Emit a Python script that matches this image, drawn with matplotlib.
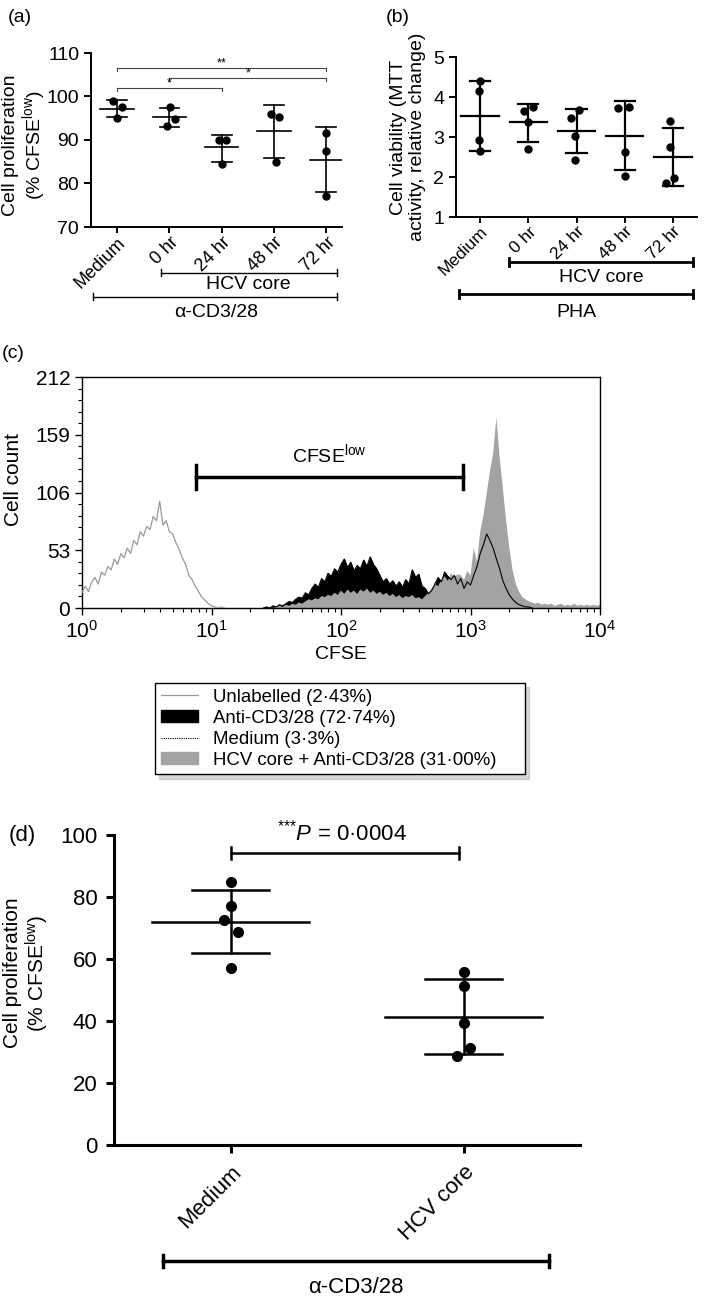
import numpy as np
import matplotlib
matplotlib.use('Agg')
import matplotlib.pyplot as plt
from matplotlib.lines import Line2D
from matplotlib.patches import Patch
from matplotlib.ticker import AutoMinorLocator, LogLocator, NullFormatter

plt.rcParams['font.family'] = ['Liberation Sans', 'DejaVu Sans']
plt.rcParams['mathtext.fontset'] = 'custom'
plt.rcParams['mathtext.rm'] = 'Liberation Sans'
plt.rcParams['mathtext.it'] = 'Liberation Sans:italic'
plt.rcParams['mathtext.bf'] = 'Liberation Sans:bold'

# ---- panel (a): proliferation, alpha-CD3/28 ----
a_groups = ['Medium', '0 hr', '24 hr', '48 hr', '72 hr']
a_points = [[99.0, 97.5, 95.0],
            [97.7, 94.8, 93.3],
            [90.0, 90.0, 84.5],
            [95.9, 95.2, 85.0],
            [91.5, 87.4, 77.2]]
a_jitter = [[-0.07, 0.09, 0.0],
            [0.02, 0.11, -0.05],
            [-0.06, 0.08, 0.0],
            [-0.05, 0.09, 0.03],
            [0.0, 0.0, 0.0]]
a_mean = [97.2, 95.2, 88.3, 92.0, 85.5]
a_sd_hi = [99.1, 97.3, 91.2, 98.1, 92.9]
a_sd_lo = [95.2, 93.0, 84.9, 85.9, 78.0]
a_sig = [(0, 4, 106.5, '**'), (1, 4, 104.2, '*'), (0, 2, 101.9, '*')]

# ---- panel (b): MTT viability, PHA ----
b_groups = ['Medium', '0 hr', '24 hr', '48 hr', '72 hr']
b_points = [[4.40, 4.14, 2.92, 2.64],
            [3.75, 3.64, 3.38, 2.70],
            [3.68, 3.48, 3.03, 2.43],
            [3.72, 3.75, 2.62, 2.03],
            [3.41, 2.75, 1.97, 1.85]]
b_jitter = [[0.0, -0.03, -0.03, 0.0],
            [0.10, -0.09, 0.0, 0.0],
            [0.06, -0.12, -0.03, -0.03],
            [-0.14, 0.08, 0.0, 0.0],
            [-0.05, -0.05, 0.03, -0.15]]
b_mean = [3.53, 3.37, 3.16, 3.03, 2.50]
b_sd_hi = [4.40, 3.83, 3.71, 3.89, 3.22]
b_sd_lo = [2.64, 2.88, 2.60, 2.18, 1.77]

# ---- panel (c): CFSE histograms (counts per 0.025 log10 step) ----
hist_step = 0.025
unlab_start = 0.0
unlab_counts = [14, 20, 15, 24, 28, 22, 33, 30, 38, 35, 45, 40, 50, 46, 55, 50,
                62, 58, 70, 66, 75, 72, 84, 80, 98, 76, 80, 70, 68, 60, 54, 46,
                40, 30, 26, 20, 15, 10, 7, 4, 2, 1, 0, 1, 0]
anti_start = 1.4
anti_counts = [0, 1, 0, 2, 1, 3, 2, 4, 6, 5, 8, 10, 9, 14, 12, 18, 22, 19, 27, 24,
               32, 29, 36, 33, 40, 45, 37, 42, 34, 39, 36, 44, 38, 47, 40, 36, 30,
               24, 27, 22, 25, 20, 24, 19, 26, 22, 35, 28, 31, 20, 18, 13, 16, 22,
               28, 24, 33, 29, 26, 30, 22, 27, 18, 24, 21, 30, 38, 50, 58, 68, 62,
               55, 45, 36, 25, 18, 12, 8, 5, 3, 2, 1, 1, 0]
hcv_start = 1.4
hcv_counts = [0, 0, 1, 0, 1, 2, 1, 3, 2, 4, 3, 5, 4, 6, 8, 7, 9, 8, 11, 10, 12, 11,
              14, 12, 16, 13, 17, 14, 16, 13, 17, 15, 18, 14, 16, 13, 15, 12, 14,
              11, 13, 10, 12, 9, 11, 10, 12, 9, 10, 8, 11, 14, 18, 22, 20, 26, 29,
              25, 32, 28, 31, 30, 26, 34, 30, 55, 42, 70, 85, 105, 125, 142, 175,
              138, 110, 80, 55, 35, 22, 15, 10, 8, 6, 5, 4, 5, 3, 4, 3, 4, 2, 3, 4,
              2, 3, 2, 4, 2, 3, 2, 3, 2, 3, 2, 3]
c_gate = (7.6, 875.0, 120.0)
c_labels = ['Unlabelled (2·43%)', 'Anti-CD3/28 (72·74%)', 'Medium (3·3%)',
            'HCV core + Anti-CD3/28 (31·00%)']

# ---- panel (d): proliferation, HCV core vs medium ----
d_groups = ['Medium', 'HCV core']
d_points = [[84.8, 77.0, 72.6, 68.7, 57.0],
            [55.8, 51.3, 39.4, 31.3, 28.7]]
d_jitter = [[0.0, 0.0, -0.026, 0.033, 0.0],
            [0.0, 0.0, 0.0, 0.026, -0.03]]
d_mean = [72.0, 41.3]
d_sd_hi = [82.3, 53.5]
d_sd_lo = [62.0, 29.4]

W, H = 709, 1301
fig = plt.figure(figsize=(W / 100, H / 100), dpi=100)


def box(l, t, r, b):
    return [l / W, 1 - b / H, (r - l) / W, (b - t) / H]


def dotplot(ax, points, jitter, mean, hi, lo, mhw, shw, lw, ms):
    for i in range(len(points)):
        ax.plot([i + j for j in jitter[i]], points[i], 'o', color='black', ms=ms, zorder=3)
        ax.plot([i, i], [lo[i], hi[i]], color='black', lw=lw)
        ax.plot([i - mhw, i + mhw], [mean[i], mean[i]], color='black', lw=lw)
        ax.plot([i - shw, i + shw], [hi[i], hi[i]], color='black', lw=lw)
        ax.plot([i - shw, i + shw], [lo[i], lo[i]], color='black', lw=lw)


def bracket(ax, x0, x1, y, lw, cap):
    tr = ax.get_xaxis_transform()
    ax.plot([x0, x1], [y, y], color='black', lw=lw, transform=tr, clip_on=False)
    for x in (x0, x1):
        ax.plot([x, x], [y - cap, y + cap], color='black', lw=lw, transform=tr, clip_on=False)


def style(ax, lw, fs):
    ax.spines['top'].set_visible(False)
    ax.spines['right'].set_visible(False)
    ax.spines['left'].set_linewidth(lw)
    ax.spines['bottom'].set_linewidth(lw)
    ax.tick_params(width=lw, length=5, labelsize=fs, direction='out')


# (a)
ax = fig.add_axes(box(91, 53, 342, 227))
dotplot(ax, a_points, a_jitter, a_mean, a_sd_hi, a_sd_lo, 0.32, 0.19, 1.2, 5)
ax.set_xlim(-0.5, 4.3)
ax.set_ylim(70, 110)
ax.set_yticks([70, 80, 90, 100, 110])
ax.set_xticks(range(5))
ax.set_xticklabels(a_groups, rotation=45, ha='right', rotation_mode='anchor')
style(ax, 1.4, 14)
ax.tick_params(axis='x', labelsize=13, length=4, pad=1)
for x0, x1, y, s in a_sig:
    ax.plot([x0, x1], [y, y], color='#444444', lw=0.8)
    ax.plot([x0, x0], [y, y - 0.7], color='#444444', lw=0.8)
    ax.plot([x1, x1], [y, y - 0.7], color='#444444', lw=0.8)
    ax.text((x0 + x1) / 2, y - 0.3, s, ha='center', va='bottom', fontsize=9)
bracket(ax, 0.83, 4.21, -0.264, 1.0, 0.02)
bracket(ax, -0.46, 4.21, -0.402, 1.0, 0.02)
ax.text(2.5, -0.333, 'HCV core', transform=ax.get_xaxis_transform(), ha='center', va='center', fontsize=14)
ax.text(1.9, -0.494, 'α-CD3/28', transform=ax.get_xaxis_transform(), ha='center', va='center', fontsize=14)
fig.text(25 / W, 1 - 145 / H, 'Cell proliferation\n(% CFSE$^{\\mathrm{low}}$)', rotation=90,
         ha='center', va='center', fontsize=14, linespacing=1.1)
fig.text(20 / W, 1 - 17 / H, '(a)', ha='center', va='center', fontsize=14)

# (b)
ax = fig.add_axes(box(456, 57, 697, 217))
dotplot(ax, b_points, b_jitter, b_mean, b_sd_hi, b_sd_lo, 0.39, 0.21, 1.6, 5)
ax.set_xlim(-0.5, 4.5)
ax.set_ylim(1, 5)
ax.set_yticks([1, 2, 3, 4, 5])
ax.set_xticks(range(5))
ax.set_xticklabels(b_groups, rotation=45, ha='right', rotation_mode='anchor')
style(ax, 1.4, 14)
ax.tick_params(axis='x', labelsize=12.5, length=4, pad=1)
bracket(ax, 0.6, 4.42, -0.281, 2.0, 0.025)
bracket(ax, -0.44, 4.42, -0.481, 2.0, 0.025)
ax.text(2.51, -0.381, 'HCV core', transform=ax.get_xaxis_transform(), ha='center', va='center', fontsize=14)
ax.text(2.0, -0.594, 'PHA', transform=ax.get_xaxis_transform(), ha='center', va='center', fontsize=14)
fig.text(408 / W, 1 - 137 / H, 'Cell viability (MTT\nactivity, relative change)', rotation=90,
         ha='center', va='center', fontsize=14, linespacing=1.1)
fig.text(398 / W, 1 - 17 / H, '(b)', ha='center', va='center', fontsize=14)

# (c)
ax = fig.add_axes(box(82, 377, 600, 608))
ux = 10 ** (unlab_start + hist_step * np.arange(len(unlab_counts)))
axx = 10 ** (anti_start + hist_step * np.arange(len(anti_counts)))
hx = 10 ** (hcv_start + hist_step * np.arange(len(hcv_counts)))
ax.fill_between(axx, 0, anti_counts, facecolor='black', edgecolor='black', lw=0.5, zorder=1)
ax.fill_between(hx, 0, hcv_counts, facecolor='#a3a3a3', lw=0, zorder=2)
ax.plot(axx, anti_counts, color='black', lw=0.8, zorder=3)
ax.plot(ux, unlab_counts, color='#9a9a9a', lw=0.9, zorder=3)
ax.set_xscale('log')
ax.set_xlim(1, 1e4)
ax.set_ylim(0, 212)
ax.set_yticks([0, 53, 106, 159, 212])
ax.yaxis.set_minor_locator(AutoMinorLocator(5))
ax.xaxis.set_minor_locator(LogLocator(base=10, subs=np.arange(2, 10)))
ax.xaxis.set_minor_formatter(NullFormatter())
for s in ax.spines.values():
    s.set_linewidth(1.0)
ax.tick_params(which='major', length=5, width=1.0, labelsize=15)
ax.tick_params(which='minor', length=3, width=0.8)
g0, g1, gy = c_gate
ax.plot([g0, g1], [gy, gy], color='black', lw=2.5, zorder=4)
ax.plot([g0, g0], [gy - 11, gy + 11], color='black', lw=2.5, zorder=4)
ax.plot([g1, g1], [gy - 11, gy + 11], color='black', lw=2.5, zorder=4)
ax.text(np.sqrt(g0 * g1), gy + 10, 'CFSE$^{\\mathrm{low}}$', ha='center', va='bottom', fontsize=14)
ax.set_xlabel('CFSE', fontsize=14, labelpad=3)
fig.text(14 / W, 1 - 480 / H, 'Cell count', rotation=90, ha='center', va='center', fontsize=15)
fig.text(13 / W, 1 - 353 / H, '(c)', ha='center', va='center', fontsize=14)

handles = [Line2D([], [], color='#9a9a9a', lw=0.9),
           Patch(facecolor='black', edgecolor='black'),
           Line2D([], [], color='black', lw=0.8, ls=(0, (1, 1))),
           Patch(facecolor='#a3a3a3', edgecolor='#a3a3a3')]
leg = fig.legend(handles, c_labels, loc='upper left',
                 bbox_to_anchor=(155 / W, 1 - 776 / H, 370 / W, 93 / H), mode='expand',
                 frameon=True, fancybox=False, shadow={'ox': 3, 'oy': -3, 'shade': 0.3},
                 edgecolor='black', fontsize=13.4,
                 handlelength=2.0, handleheight=0.6, handletextpad=0.8, labelspacing=0.22,
                 borderpad=0.3, borderaxespad=0)
leg.get_frame().set_linewidth(1.0)

# (d)
ax = fig.add_axes(box(114, 835, 580, 1145))
dotplot(ax, d_points, d_jitter, d_mean, d_sd_hi, d_sd_lo, 0.335, 0.167, 1.8, 7)
ax.set_xlim(-0.5, 1.5)
ax.set_ylim(0, 100)
ax.set_yticks([0, 20, 40, 60, 80, 100])
ax.set_xticks([0, 1])
ax.set_xticklabels(d_groups, rotation=45, ha='right', rotation_mode='anchor')
style(ax, 2.2, 16)
ax.tick_params(length=6, pad=6)
ax.plot([0, 0.98], [94.2, 94.2], color='black', lw=1.8)
ax.plot([0, 0], [92.2, 96.2], color='black', lw=1.8)
ax.plot([0.98, 0.98], [92.2, 96.2], color='black', lw=1.8)
ax.text(0.48, 96.5, '$^{{*}{*}{*}}\\mathit{P}$ = 0·0004', ha='center', va='bottom', fontsize=16)
bracket(ax, -0.29, 1.365, -0.374, 2.5, 0.02)
ax.text(0.536, -0.461, 'α-CD3/28', transform=ax.get_xaxis_transform(), ha='center', va='center', fontsize=16)
fig.text(27 / W, 1 - 973 / H, 'Cell proliferation\n(% CFSE$^{\\mathrm{low}}$)', rotation=90,
         ha='center', va='center', fontsize=15, linespacing=1.1)
fig.text(22 / W, 1 - 835 / H, '(d)', ha='center', va='center', fontsize=16)

fig.savefig('out.png', dpi=100)
